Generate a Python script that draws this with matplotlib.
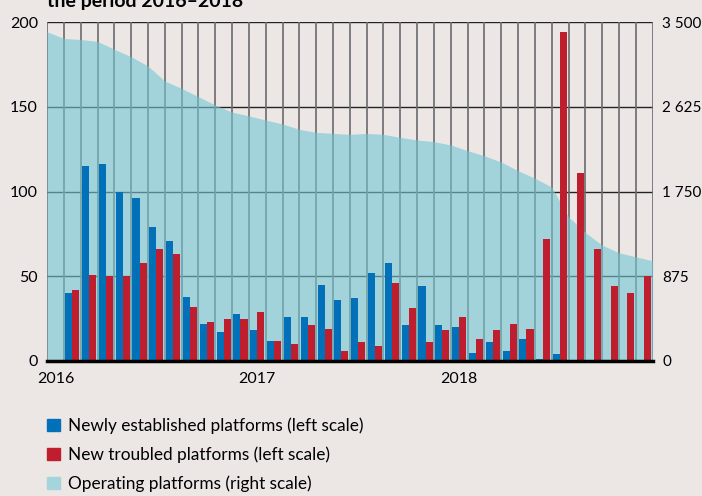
import numpy as np
import matplotlib.pyplot as plt
from matplotlib.patches import Patch

plt.rcParams['font.family'] = ['Lato', 'DejaVu Sans']

### DATA ###
# monthly bars, Jan 2016 .. Dec 2018 (first month has no bars)
newly_established = [np.nan, 40, 115, 116, 100, 96, 79, 71, 38, 22, 17, 28,
                     18, 12, 26, 26, 45, 36, 37, 52, 58, 21, 44, 21,
                     20, 5, 11, 6, 13, 1, 4, 0, 0, 0, 0, 0]
new_troubled = [np.nan, 42, 51, 50, 50, 58, 66, 63, 32, 23, 25, 25,
                29, 12, 10, 21, 19, 6, 11, 9, 46, 31, 11, 18,
                26, 13, 18, 22, 19, 72, 194, 111, 66, 44, 40, 50]
# operating platforms at month boundaries (right scale)
operating = [3400, 3330, 3320, 3300, 3218, 3142, 3046, 2891, 2815, 2729,
             2643, 2570, 2531, 2488, 2447, 2392, 2361, 2350, 2340, 2350,
             2340, 2309, 2282, 2265, 2230, 2172, 2118, 2054, 1965, 1887,
             1796, 1489, 1326, 1197, 1117, 1076, 1035]
year_labels = ['2016', '2017', '2018']
left_ticks = [0, 50, 100, 150, 200]
right_ticks = [0, 875, 1750, 2625, 3500]
right_ticklabels = ['0', '875', '1 750', '2 625', '3 500']

bg = '#ece7e4'
blue = '#0070b8'
red = '#be1e2d'
teal = '#72c6d4'

fig = plt.figure(figsize=(7.02, 4.96), dpi=100, facecolor=bg)
ax = fig.add_axes([0.067, 0.2722, 0.8627, 0.6834])
ax.set_facecolor(bg)
ax2 = ax.twinx()
ax2.set_ylim(0, 3500)
ax.set_ylim(0, 200)
n = len(newly_established)
ax.set_xlim(0, n)

# grid
for v in left_ticks[1:]:
    ax.axhline(v, color='#222222', linewidth=1.0, zorder=1)
for k in range(n + 1):
    ax.axvline(k, color='#6b6b6b', linewidth=1.2, zorder=1)

# area on right scale, drawn in ax for layering
xb = np.arange(len(operating))
ax.fill_between(xb, 0, operating, transform=ax2.transData,
                color=teal, alpha=0.6, linewidth=0, zorder=2)

x = np.arange(n)
w = 0.42
ax.bar(x + 0.29, newly_established, width=w, color=blue, zorder=3)
ax.bar(x + 0.71, new_troubled, width=w, color=red, zorder=3)

for sp in ['top', 'left', 'right']:
    ax.spines[sp].set_visible(False)
    ax2.spines[sp].set_visible(False)
ax2.spines['bottom'].set_visible(False)
ax.spines['bottom'].set_linewidth(2.5)
ax.spines['bottom'].set_color('black')
ax.spines['bottom'].set_zorder(5)

ax.set_yticks(left_ticks)
ax.set_xticks([0.5, 12.5, 24.5])
ax.set_xticklabels(year_labels)
ax2.set_yticks(right_ticks)
ax2.set_yticklabels(right_ticklabels)
ax.tick_params(length=0, labelsize=11.5, pad=6.5)
ax.tick_params(axis='x', pad=8)
ax2.tick_params(length=0, labelsize=11, pad=7)

fig.text(0.067, 1 - 7 / 496, 'the period 2016–2018', fontsize=14,
         fontweight='bold', va='baseline', ha='left')

handles = [Patch(color=blue), Patch(color=red), Patch(color='#a5d5dc')]
labels = ['Newly established platforms (left scale)',
          'New troubled platforms (left scale)',
          'Operating platforms (right scale)']
fig.legend(handles, labels, loc='upper left', bbox_to_anchor=(0.057, 0.172),
           frameon=False, fontsize=12.4, handlelength=0.75, handleheight=0.75,
           handletextpad=0.45, labelspacing=0.72, borderaxespad=0)

fig.savefig('out.png', dpi=100, facecolor=bg)
